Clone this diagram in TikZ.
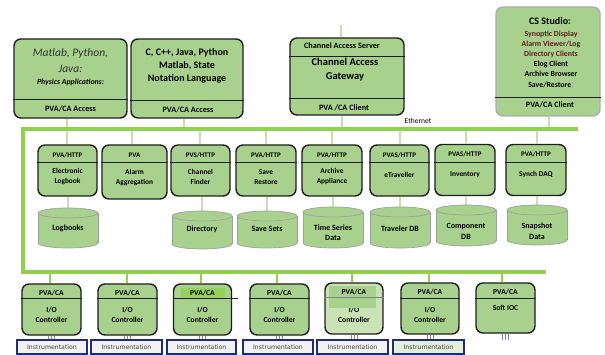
\documentclass[tikz,border=0pt]{standalone}
\usepackage{fontspec}
\setmainfont{Carlito}
\newfontfamily\instfont{DejaVu Sans}
\definecolor{boxg}{HTML}{A9D18E}
\definecolor{boxl}{HTML}{C9E3B6}
\definecolor{eth}{HTML}{92D050}
\definecolor{conn}{HTML}{C5E0B4}
\definecolor{bord}{HTML}{1E1E1E}
\definecolor{dred}{HTML}{5C1F1F}
\definecolor{instb}{HTML}{232A7E}
\definecolor{instf}{HTML}{F2F2F2}
\definecolor{instg}{HTML}{E2F0D9}
\definecolor{tickc}{HTML}{7F86A8}
\tikzset{
  gbox/.style={draw=bord, fill=boxg, line width=1.4pt, rounded corners=7pt, inner sep=0pt},
  divl/.style={draw=bord, line width=0.9pt},
  ethl/.style={draw=eth, line width=3.5pt, line join=miter},
  connl/.style={draw=conn, line width=1.8pt},
  cylb/.style={draw=gray!75, line width=0.7pt},
  txt/.style={inner sep=0pt, align=center, text=black},
  small/.style={txt, font=\bfseries\fontsize{8.2}{9}\selectfont},
  tiny/.style={txt, font=\bfseries\fontsize{7}{8}\selectfont},
  svc/.style={txt, font=\bfseries\fontsize{7.4}{10}\selectfont},
  iot/.style={txt, font=\bfseries\fontsize{7.6}{10}\selectfont},
  cyltxt/.style={txt, font=\bfseries\fontsize{8}{10.5}\selectfont},
  instbox/.style={draw=instb, fill=instf, line width=1.3pt, inner sep=0pt,
    minimum height=14pt, text=black!75, font=\instfont\fontsize{6.2}{7}\selectfont},
  tickl/.style={draw=tickc, line width=0.8pt}
}
\newcommand\dbcyl[6]{%
  \fill[boxg] (#2-30,#3+5) rectangle (#2+30,#4-5);
  \fill[boxg] (#2,#4-5) ellipse [x radius=30pt, y radius=5pt];
  \begin{scope}
    \clip (#2-32,#4-5) rectangle (#2+32,#4+2);
    \draw[cylb] (#2,#4-5) ellipse [x radius=30pt, y radius=5pt];
  \end{scope}
  \draw[cylb] (#2-30,#3+5) -- (#2-30,#4-5) (#2+30,#3+5) -- (#2+30,#4-5);
  \draw[cylb, fill=boxg] (#2,#3+5) ellipse [x radius=30pt, y radius=5pt];
  \node[inner sep=0pt, minimum width=60pt, minimum height={(#4-#3)*1pt}] (#1) at (#2,{(#3+#4)/2}) {};
  \node[cyltxt] (#1t) at (#2,#6) {#5};
}
\newcommand\iotick[2]{%
  \foreach \dx in {-3,0,3}{\draw[tickl] ([xshift=\dx pt]#1.south) -- ([xshift=\dx pt]#1.south |- #2);}
}
\begin{document}
\begin{tikzpicture}[x=1pt,y=-1pt]
\useasboundingbox (0,0) rectangle (605,355);
% ---------- ethernet coordinates and taps
\coordinate (eTL) at (23,129);
\coordinate (eTR) at (578,129);
\coordinate (eBL) at (23,272);
\coordinate (eBR) at (546,272);
\coordinate (t1) at (67,129);
\coordinate (t2) at (184,129);
\coordinate (t3) at (342,129);
\coordinate (t4) at (549,129);
\coordinate (gwtop) at (341,25);
\coordinate (ts1) at (67,129);
\coordinate (ts2) at (132,129);
\coordinate (ts3) at (200,129);
\coordinate (ts4) at (266,129);
\coordinate (ts5) at (332,129);
\coordinate (ts6) at (400,129);
\coordinate (ts7) at (466,129);
\coordinate (ts8) at (537,129);
\coordinate (ti1) at (50,272);
\coordinate (ti2) at (127,272);
\coordinate (ti3) at (201,272);
\coordinate (ti4) at (277,272);
\coordinate (ti5) at (352,272);
\coordinate (ti6) at (429,272);
\coordinate (ti7) at (502,272);
% ---------- top row boxes
\node[gbox, minimum width=113pt, minimum height=79pt] (matlab) at (70.5,78.5) {};
\node[gbox, minimum width=112pt, minimum height=79pt] (cbox) at (187,78.5) {};
\node[gbox, minimum width=114pt, minimum height=77pt] (gw) at (347,76.5) {};
\node[gbox, draw=gray!65, minimum width=104pt, minimum height=109pt] (css) at (548,61.5) {};
\draw[connl] (matlab.south -| t1) -- (t1);
\draw[connl] (cbox.south -| t2) -- (t2);
\draw[connl] (gw.south -| t3) -- (t3);
\draw[connl] (gw.north -| gwtop) -- (gwtop);
\draw[connl] (css.south -| t4) -- (t4);
\draw[divl] (matlab.west |- 0,99) -- (matlab.east |- 0,99);
\draw[divl] (cbox.west |- 0,100) -- (cbox.east |- 0,100);
\draw[divl] (gw.west |- 0,56) -- (gw.east |- 0,56);
\draw[divl] (gw.west |- 0,98) -- (gw.east |- 0,98);
\draw[divl] (css.west |- 0,97) -- (css.east |- 0,97);
\node[txt, font=\itshape\fontsize{11.5}{12}\selectfont, text=black!80] (m1) at (70.5,53) {Matlab, Python,};
\node[txt, font=\itshape\fontsize{11.5}{12}\selectfont, text=black!80] (m2) at (70.5,69) {Java:};
\node[txt, font=\bfseries\itshape\fontsize{7.8}{8}\selectfont] (m3) at (70.5,82.5) {Physics Applications:};
\node[small] (m4) at (70.5,109) {PVA/CA Access};
\node[txt, font=\bfseries\fontsize{10}{13}\selectfont] (c1) at (187,66) {C, C++, Java, Python\\Matlab, State\\Notation Language};
\node[small] (c2) at (188,110) {PVA/CA Access};
\node[small] (g1) at (342,46) {Channel Access Server};
\node[txt, font=\bfseries\fontsize{10.5}{14}\selectfont] (g2) at (345,70) {Channel Access\\Gateway};
\node[small] (g3) at (344,108) {PVA /CA Client};
\node[txt, font=\bfseries\fontsize{10}{11}\selectfont] (s0) at (550,21) {CS Studio:};
\node[txt, font=\bfseries\fontsize{7.8}{10.2}\selectfont] (sl) at (551,59.5)
  {\textcolor{dred}{Synoptic Display}\\\textcolor{dred}{Alarm Viewer/Log}\\\textcolor{dred}{Directory Clients}\\Elog Client\\Archive Browser\\Save/Restore\textcolor{gray!60}{)}};
\node[small] (s9) at (550,105) {PVA/CA Client};
% ---------- services
\node[gbox, minimum width=59pt, minimum height=51pt] (s1) at (67.5,170.5) {};
\node[gbox, minimum width=65pt, minimum height=54pt] (s2) at (134.5,172) {};
\node[gbox, minimum width=59pt, minimum height=51pt] (s3) at (200.5,170.5) {};
\node[gbox, minimum width=60pt, minimum height=51pt] (s4) at (266,170.5) {};
\node[gbox, minimum width=60pt, minimum height=51pt] (s5) at (332,170.5) {};
\node[gbox, minimum width=59pt, minimum height=51pt] (s6) at (399.5,170.5) {};
\node[gbox, minimum width=60pt, minimum height=51pt] (s7) at (465,170) {};
\node[gbox, minimum width=60pt, minimum height=51pt] (s8) at (536,170) {};
\foreach \s/\t in {s1/ts1,s2/ts2,s3/ts3,s4/ts4,s5/ts5,s6/ts6,s7/ts7,s8/ts8}{
  \draw[connl] (\t) -- (\s.north -| \t);
  \draw[divl] (\s.west |- 0,162.5) -- (\s.east |- 0,162.5);
}
\node[tiny] (p1) at (67.5,155) {PVA/HTTP};
\node[tiny] (p2) at (134.5,155) {PVA};
\node[tiny] (p3) at (200.5,155) {PVS/HTTP};
\node[tiny] (p4) at (266,155) {PVA/HTTP};
\node[tiny] (p5) at (332,155) {PVA/HTTP};
\node[tiny] (p6) at (399.5,155) {PVAS/HTTP};
\node[tiny] (p7) at (465,154.5) {PVAS/HTTP};
\node[tiny] (p8) at (536,154.5) {PVA/HTTP};
\node[svc] (n1) at (67.5,177) {Electronic\\Logbook};
\node[svc] (n2) at (134.5,178) {Alarm\\Aggregation};
\node[svc] (n3) at (200.5,177) {Channel\\Finder};
\node[svc] (n4) at (266,177) {Save\\Restore};
\node[svc] (n5) at (332,176) {Archive\\Appliance};
\node[svc] (n6) at (399.5,175) {eTraveller};
\node[svc] (n7) at (465,174.5) {Inventory};
\node[svc] (n8) at (536,174.5) {Synch DAQ};
% ---------- databases
\draw[connl] (s1.south -| 68,0) -- (68,209);
\draw[connl] (s3.south -| 202,0) -- (202,212);
\draw[connl] (s4.south -| 267,0) -- (267,212);
\draw[connl] (s5.south -| 333,0) -- (333,208);
\draw[connl] (s6.south -| 400,0) -- (400,208);
\draw[connl] (s7.south -| 466,0) -- (466,206);
\draw[connl] (s8.south -| 537,0) -- (537,206);
\dbcyl{d1}{68}{208}{248}{Logbooks}{228.5}
\dbcyl{d3}{202}{211}{249}{Directory}{229.5}
\dbcyl{d4}{267}{211}{248}{Save Sets}{229}
\dbcyl{d5}{333}{207}{248}{Time Series\\Data}{232.5}
\dbcyl{d6}{400}{207}{248}{Traveler DB}{228.5}
\dbcyl{d7}{466}{205}{246}{Component\\DB}{231.5}
\dbcyl{d8}{537}{205}{245}{Snapshot\\Data}{231}
% ---------- ethernet
\draw[ethl] (eTR) -- (eTL) -- (eBL) -- (eBR);
\node[txt, font=\fontsize{7.5}{9}\selectfont] (ethlbl) at (418,121) {Ethernet};
% ---------- IOCs
\node[gbox, minimum width=59pt, minimum height=51pt] (i1) at (51.5,309.5) {};
\node[gbox, minimum width=59pt, minimum height=51pt] (i2) at (127.5,309.5) {};
\node[gbox, minimum width=58pt, minimum height=51pt] (i3) at (202.5,309.5) {};
\node[gbox, minimum width=59pt, minimum height=51pt] (i4) at (279.5,309.5) {};
\node[gbox, fill=boxl, minimum width=58pt, minimum height=51pt] (i5) at (354,308.5) {};
\node[gbox, minimum width=58pt, minimum height=51pt] (i6) at (430,308.5) {};
\node[gbox, minimum width=59pt, minimum height=50pt] (i7) at (505.5,308) {};
\foreach \i/\t in {i1/ti1,i2/ti2,i3/ti3,i4/ti4,i5/ti5,i6/ti6,i7/ti7}{
  \draw[connl, draw=eth, line width=2pt] (\t) -- (\i.north -| \t);
}
\foreach \i in {i1,i2,i4,i6,i7}{
  \draw[divl] (\i.west |- 0,298.5) -- (\i.east |- 0,298.5);
}
% highlighted IOC 3
\fill[eth!85!boxg] (181,288) rectangle (225,297.5);
\draw[divl] (i3.west |- 0,298.5) -- (238,298.5);
% IOC 5 with overlay
\node[iot] (q5b) at (354,315) {I/O\\Controller};
\fill[boxg] (329,286) rectangle (376,308);
\draw[divl, draw=bord!55] (i5.west |- 0,297.5) -- (i5.east |- 0,297.5);
\foreach \i/\x/\y in {i1/51.5/293,i2/127.5/293,i3/202.5/293,i4/279.5/293,i5/354/292,i6/430/292,i7/505.5/292}{
  \node[iot] (\i a) at (\x,\y) {PVA/CA};
}
\foreach \i/\x in {i1/51.5,i2/127.5,i3/202.5,i4/279.5,i6/430}{
  \node[iot] (\i b) at (\x,315) {I/O\\Controller};
}
\node[iot] (i7b) at (505.5,307.5) {Soft IOC};
% ---------- instrumentation
\node[instbox, minimum width=70pt] (b1) at (52,347) {Instrumentation};
\node[instbox, minimum width=71pt] (b2) at (126.5,347) {Instrumentation};
\node[instbox, minimum width=69pt] (b3) at (201.5,347) {Instrumentation};
\node[instbox, minimum width=70pt] (b4) at (278,347) {Instrumentation};
\node[instbox, minimum width=71pt] (b5) at (352.5,347) {Instrumentation};
\node[instbox, fill=instg, minimum width=71pt] (b6) at (428.5,347) {Instrumentation};
\coordinate (softend) at (505.5,340);
\iotick{i1}{b1.north}
\iotick{i2}{b2.north}
\iotick{i3}{b3.north}
\iotick{i4}{b4.north}
\iotick{i5}{b5.north}
\iotick{i6}{b6.north}
\iotick{i7}{softend}
\end{tikzpicture}
\end{document}
